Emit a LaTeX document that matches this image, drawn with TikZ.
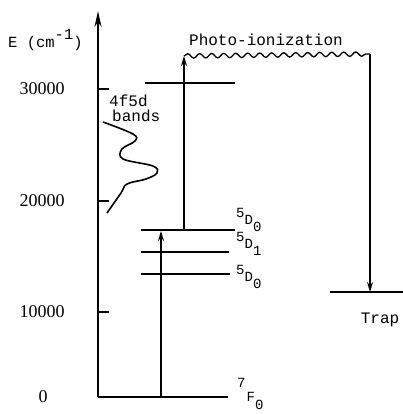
\documentclass[tikz,border=0pt]{standalone}
\usepackage{fontspec}
\usetikzlibrary{arrows.meta,decorations.pathmorphing}
\newfontfamily\tw{Liberation Mono}
\newfontfamily\numfont{Liberation Serif}
\newcommand{\termlab}[3]{\raisebox{7pt}{#1}#2\raisebox{-7pt}{#3}}
\begin{document}
\begin{tikzpicture}[x=1pt,y=-1pt,
  lvl/.style={line width=1.6pt},
  ax/.style={line width=1.9pt},
  tick/.style={line width=1.5pt},
  arr/.style={line width=1.4pt,-{Stealth[length=10pt,width=6pt]}},
  txt/.style={font=\tw\fontsize{16}{18}\selectfont, inner sep=0pt},
  numlab/.style={font=\numfont\fontsize{18}{20}\selectfont, inner sep=0pt},
  lab/.style={font=\tw\fontsize{14}{16}\selectfont, inner sep=0pt, anchor=base west}]
\useasboundingbox (0,0) rectangle (403,414);
% axis
\coordinate (O) at (98,397);
\coordinate (axtop) at (98,11);
\coordinate (gEnd) at (228,397);
\draw[ax,-{Stealth[length=16pt,width=7pt]}] (O) -- (axtop);
\draw[lvl] (O) -- (gEnd);
% ticks and values
\foreach \yy/\tt in {89/30000,201/20000,312/10000}{
  \draw[tick] (98,\yy) -- (109,\yy);
  \node[numlab] at (42,\yy) {\tt};
}
\node[numlab] (zero) at (43,397) {0};
\node[lab,font=\tw\fontsize{15.5}{17}\selectfont] (elab) at (8,48) {E (cm\raisebox{8pt}{-1})};
% levels
\coordinate (L30a) at (145,83);  \coordinate (L30b) at (235,83);
\coordinate (L5a) at (141,230);  \coordinate (L5b) at (235,230);
\coordinate (L4a) at (141,252);  \coordinate (L4b) at (229,252);
\coordinate (L3a) at (141,274);  \coordinate (L3b) at (230,274);
\draw[lvl] (L30a) -- (L30b);
\draw[lvl] (L5a) -- (L5b);
\draw[lvl] (L4a) -- (L4b);
\draw[lvl] (L3a) -- (L3b);
\coordinate (Ta) at (330,292); \coordinate (Tb) at (403,292);
\draw[lvl] (Ta) -- (Tb);
% level labels
\node[lab] (d0top) at (236,224) {\termlab{5}{D}{0}};
\node[lab] (d1) at (236,248) {\termlab{5}{D}{1}};
\node[lab] (d0) at (236,281) {\termlab{5}{D}{0}};
\node[lab] (f0) at (237,401) {\raisebox{14pt}{7}\kern1pt F\raisebox{-8pt}{0}};
% transitions
\coordinate (a1s) at (161,397); \coordinate (a1e) at (161,231);
\draw[arr] (a1s) -- (a1e);
\coordinate (a2s) at (184,230); \coordinate (a2e) at (184,56);
\draw[arr] (a2s) -- (a2e);
\coordinate (w2) at (370,54);
\draw[line width=1.3pt,decorate,decoration={snake,segment length=12pt,amplitude=2.2pt}] (a2e) -- (w2);
\coordinate (trapx) at (370,292);
\draw[arr] (w2) -- (trapx);
% text
\node[txt,anchor=base] (photo) at (266,46) {Photo-ionization};
\node[txt,anchor=base west] (b1) at (109,107) {4f5d};
\node[txt,anchor=base west] (b2) at (112,122) {bands};
\node[txt] (trap) at (380,320) {Trap};
% band curve
\draw[line width=1.6pt] plot[smooth,tension=0.6] coordinates {(103,122) (133,134) (135,141) (122,149) (123,159) (153,166) (157,173) (146,179) (127,184) (121,193) (107,213)};
\end{tikzpicture}
\end{document}
